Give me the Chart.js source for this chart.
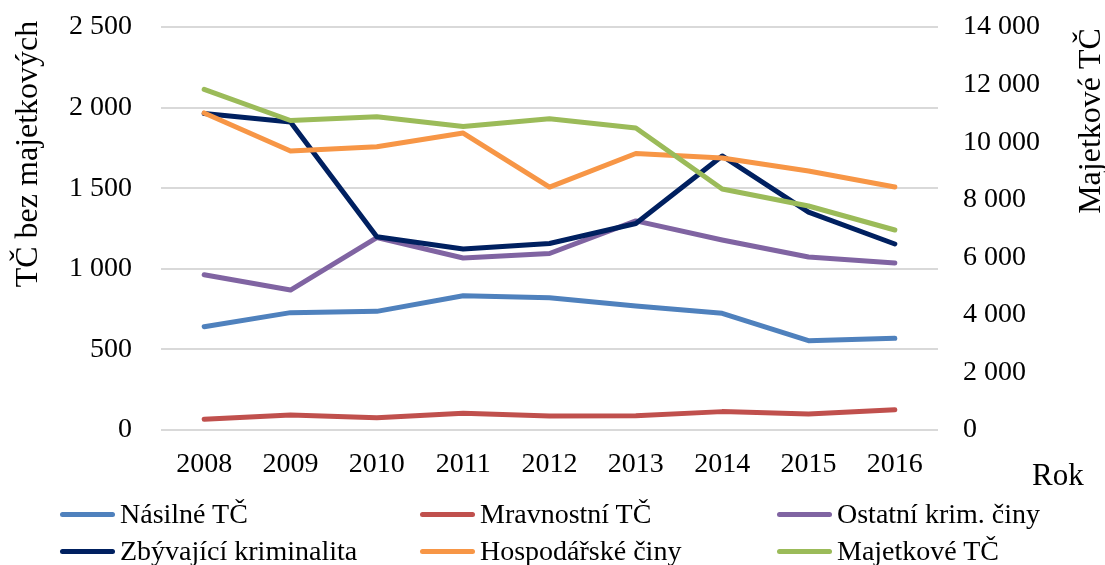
<!DOCTYPE html>
<html>
<head>
<meta charset="utf-8">
<script src="https://cdn.jsdelivr.net/npm/chart.js@4/dist/chart.umd.min.js"></script>
<style>
  html, body { margin: 0; padding: 0; background: #fff; }
  .wrap { position: relative; width: 1105px; height: 565px; overflow: hidden; }
  canvas { position: absolute; left: 0; top: 0; }
  .legenda { position: absolute; left: 0; top: 0; width: 1105px; height: 565px; pointer-events: none;
    font-family: "Liberation Serif", "Times New Roman", serif; font-size: 28px; color: #000; }
  .polozka { position: absolute; display: flex; align-items: center; height: 34px; white-space: nowrap; }
  .cara { width: 55px; height: 5px; border-radius: 3px; margin-right: 5px; }
</style>
</head>
<body>
<div class="wrap">
  <canvas id="graf" width="1105" height="565"></canvas>
  <div class="legenda" id="legenda"></div>
</div>
<script>
const years = ["2008", "2009", "2010", "2011", "2012", "2013", "2014", "2015", "2016"];
const nasilne = [641, 728, 736, 833, 821, 769, 724, 554, 569];
const mravnostni = [66, 93, 76, 104, 87, 89, 114, 99, 126];
const ostatni = [963, 868, 1193, 1067, 1095, 1297, 1179, 1073, 1036];
const zbyvajici = [1963, 1911, 1199, 1123, 1157, 1281, 1700, 1352, 1154];
const hospodarske = [1967, 1731, 1757, 1842, 1507, 1715, 1687, 1607, 1507];
const majetkove = [11836, 10752, 10884, 10543, 10814, 10491, 8372, 7781, 6947];

const names = ["Násilné TČ", "Mravnostní TČ", "Ostatní krim. činy", "Zbývající kriminalita", "Hospodářské činy", "Majetkové TČ"];
const colors = ["#4f81bd", "#c0504d", "#8064a2", "#002060", "#f79646", "#9bbb59"];
const series = [nasilne, mravnostni, ostatni, zbyvajici, hospodarske, majetkove];

const font = "'Liberation Serif', 'Times New Roman', serif";
const fmt = v => String(v).replace(/\B(?=(\d{3})+(?!\d))/g, " ");

// popisky os kreslime sami, Chart.js je centruje jinak nez original
const axisTitles = {
  id: "axisTitles",
  afterDraw(chart) {
    const ctx = chart.ctx;
    ctx.save();
    ctx.fillStyle = "#000";
    ctx.font = "32px " + font;
    ctx.textAlign = "center";
    ctx.textBaseline = "middle";
    ctx.save();
    ctx.translate(29, 154);
    ctx.rotate(-Math.PI / 2);
    ctx.fillText("TČ bez majetkových", 0, 0);
    ctx.restore();
    ctx.save();
    ctx.translate(1092, 121);
    ctx.rotate(-Math.PI / 2);
    ctx.fillText("Majetkové TČ", 0, 0);
    ctx.restore();
    ctx.font = "31px " + font;
    ctx.textAlign = "left";
    ctx.textBaseline = "alphabetic";
    ctx.fillText("Rok", 1032, 485);
    ctx.restore();
  }
};

// pevna sirka osy a bez extra odsazeni nahore/dole
const fixY = w => s => {
  s.width = w;
  s.paddingTop = 0;
  s.paddingBottom = 0;
};

new Chart(document.getElementById("graf"), {
  type: "line",
  data: {
    labels: years,
    datasets: series.map((data, i) => ({
      label: names[i],
      data,
      yAxisID: i === 5 ? "y1" : "y",
      borderColor: colors[i],
      backgroundColor: colors[i],
      borderWidth: 5,
      borderCapStyle: "round",
      borderJoinStyle: "round",
      pointRadius: 0,
      tension: 0,
      order: 6 - i
    }))
  },
  options: {
    responsive: false,
    animation: false,
    layout: { padding: { top: 27, left: 0, right: 0, bottom: 0 } },
    plugins: { legend: { display: false }, tooltip: { enabled: false } },
    scales: {
      x: {
        offset: true,
        grid: { display: false },
        border: { display: false },
        ticks: { color: "#000", font: { family: font, size: 28 }, padding: 10, maxRotation: 0 },
        afterFit: s => { s.height = 135; }
      },
      y: {
        position: "left",
        min: 0,
        max: 2500,
        grid: { color: "#d9d9d9", lineWidth: 2, drawTicks: false },
        border: { display: false },
        ticks: { stepSize: 500, color: "#000", font: { family: font, size: 28 }, padding: 29, callback: fmt },
        afterFit: fixY(161)
      },
      y1: {
        position: "right",
        min: 0,
        max: 14000,
        grid: { display: false, drawTicks: false },
        border: { display: false },
        ticks: { stepSize: 2000, color: "#000", font: { family: font, size: 28 }, padding: 25, callback: fmt },
        afterFit: fixY(167)
      }
    }
  },
  plugins: [axisTitles]
});

const legenda = document.getElementById("legenda");
const colX = [60, 420, 777];
const rowY = [514, 551];
names.forEach((name, i) => {
  const item = document.createElement("div");
  item.className = "polozka";
  item.style.left = colX[i % 3] + "px";
  item.style.top = (rowY[Math.floor(i / 3)] - 17) + "px";
  const line = document.createElement("span");
  line.className = "cara";
  line.style.background = colors[i];
  const txt = document.createElement("span");
  txt.textContent = name;
  item.appendChild(line);
  item.appendChild(txt);
  legenda.appendChild(item);
});
</script>
</body>
</html>
